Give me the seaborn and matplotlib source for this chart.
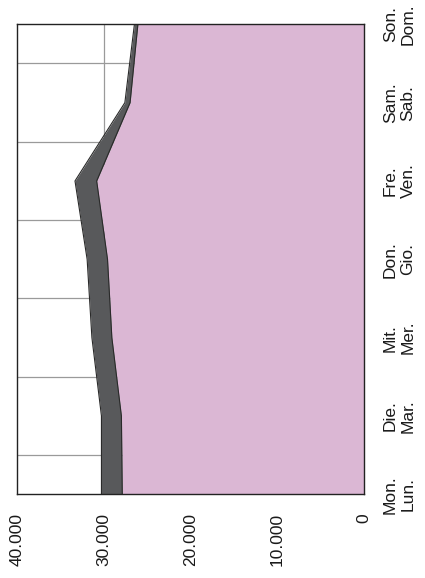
import numpy as np
import pandas as pd
import matplotlib
matplotlib.use("Agg")
import matplotlib.pyplot as plt
from matplotlib.ticker import FuncFormatter
import seaborn as sns

# data
tage = ["Mon.\nLun.", "Die.\nMar.", "Mit.\nMer.", "Don.\nGio.", "Fre.\nVen.", "Sam.\nSab.", "Son.\nDom."]
serie_rosa = [27900, 28000, 29100, 29600, 30850, 27000, 26100]
serie_grau = [2400, 2300, 2300, 2350, 2500, 600, 400]
wert_ticks = [0, 10000, 20000, 30000, 40000]

sns.set_style("white")
plt.rcParams["font.family"] = ["Liberation Sans", "DejaVu Sans"]

df = pd.DataFrame({"tag": np.arange(len(tage)), "rosa": serie_rosa, "grau": serie_grau})
df["summe"] = df["rosa"] + df["grau"]

fig = plt.figure(figsize=(4.25, 5.78), dpi=100)
ax = fig.add_axes([17.3 / 425, 1 - 494.3 / 578, 347 / 425, 470 / 578])

# grid behind the areas
ax.set_axisbelow(True)
for v in wert_ticks[1:-1]:
    ax.axvline(v, color="#9a9a9a", lw=0.9, zorder=0)
for k in range(len(tage) - 1):
    ax.axhline(k + 0.5, color="#9a9a9a", lw=0.9, zorder=0)

# stacked areas, chart turned on its side
ax.fill_betweenx(df["tag"], 0, df["rosa"], color="#dbb7d4", lw=0, zorder=2)
ax.fill_betweenx(df["tag"], df["rosa"], df["summe"], color="#58595b", lw=0, zorder=2)
sns.lineplot(data=df, x="rosa", y="tag", orient="y", sort=False, color="#2a2a2a", lw=0.8, ax=ax, zorder=3)
sns.lineplot(data=df, x="summe", y="tag", orient="y", sort=False, color="#2a2a2a", lw=0.8, ax=ax, zorder=3)

ax.set_xlim(40000, 0)
ax.set_ylim(0, len(tage) - 1)
ax.set_xticks(wert_ticks)
ax.xaxis.set_major_formatter(FuncFormatter(lambda v, p: f"{int(v):,}".replace(",", ".")))
ax.set_yticks(df["tag"])
ax.set_yticklabels(tage)
ax.yaxis.tick_right()
ax.set_xlabel("")
ax.set_ylabel("")

ax.tick_params(axis="x", length=0, pad=13.5, labelsize=12.5, labelrotation=90, colors="#1a1a1a")
ax.tick_params(axis="y", length=0, pad=13.5, labelsize=12.5, labelrotation=90, colors="#1a1a1a")
for lbl in ax.get_yticklabels():
    lbl.set_va("center")
    lbl.set_ha("left")
    lbl.set_multialignment("center")

for s in ax.spines.values():
    s.set_color("#222222")
    s.set_linewidth(1.0)
    s.set_zorder(4)

fig.savefig("out.png", dpi=100)
